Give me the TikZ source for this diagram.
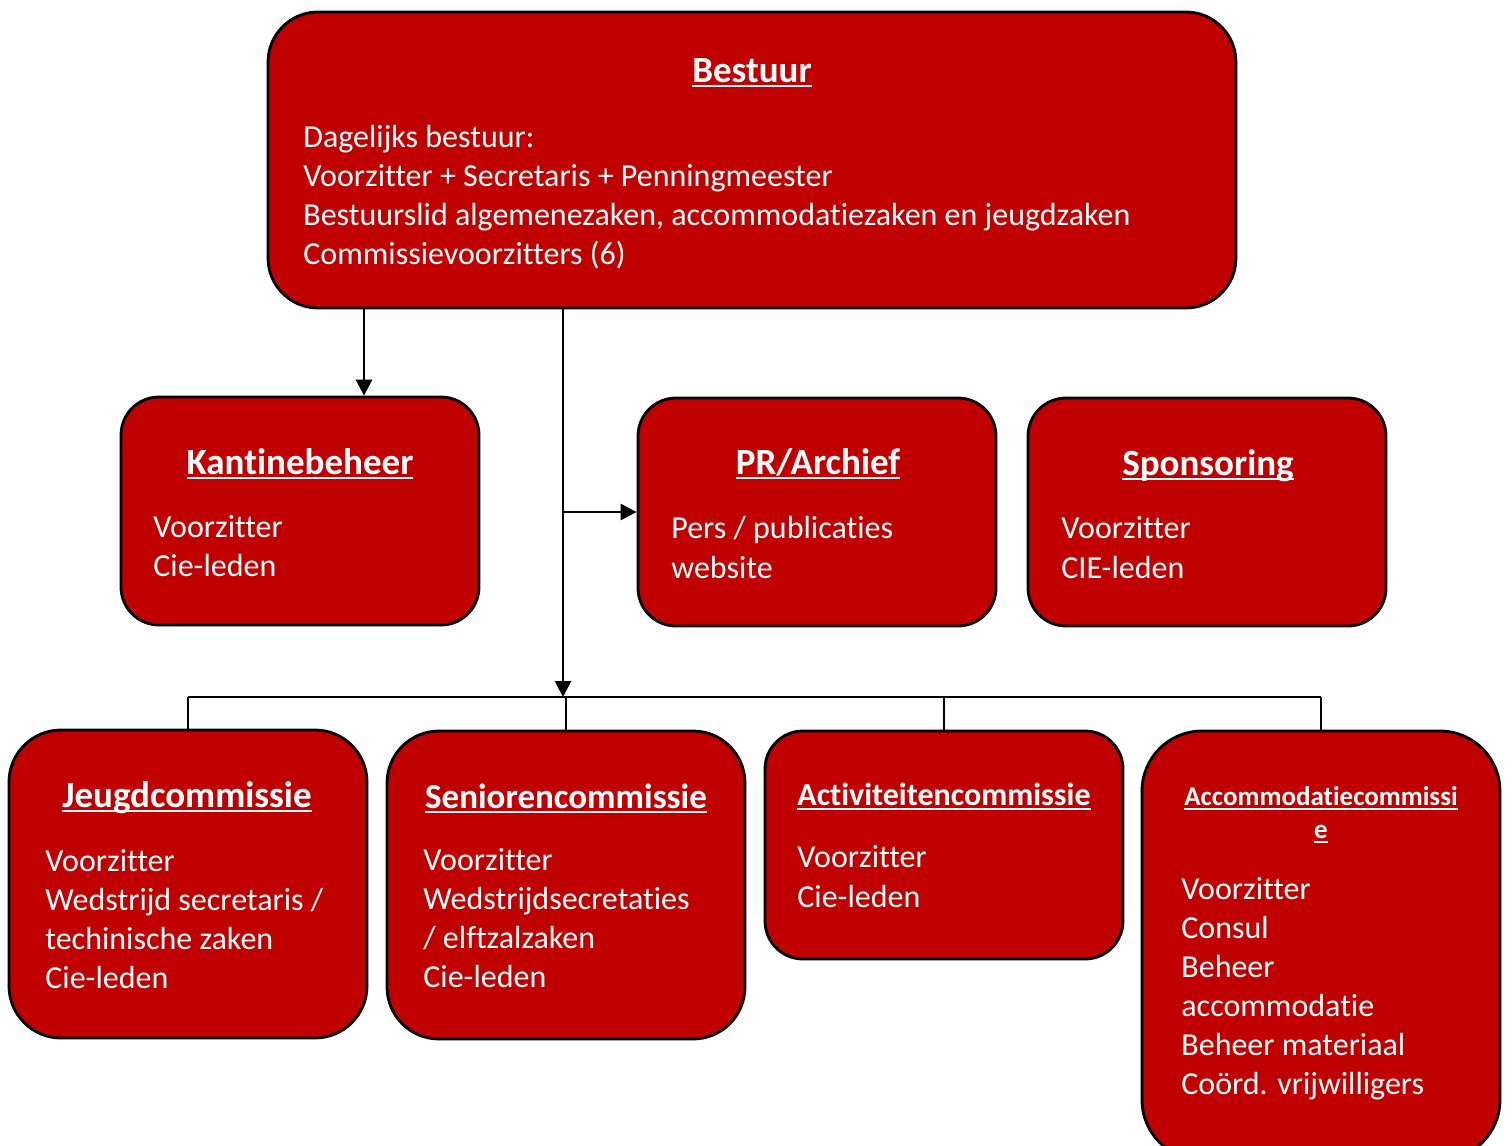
\documentclass[tikz,border=0pt]{standalone}
\usepackage{fontspec}
\setmainfont{Carlito}[Ligatures=NoCommon]
\usetikzlibrary{fit,arrows.meta}
\definecolor{boxred}{HTML}{C00000}
\newcommand\myul[1]{\setbox0\hbox{#1}\rlap{\vrule width \wd0 height -1.4pt depth 2.6pt}\box0}
\begin{document}
\begin{tikzpicture}[x=0.5pt,y=-0.5pt,
  box/.style={draw=black, line width=1.4pt, fill=boxred, inner sep=0pt},
  ttl/.style={text=white, font=\fontsize{18.5}{22}\selectfont\bfseries, anchor=base, inner sep=0pt},
  ttlmd/.style={ttl, font=\fontsize{17.5}{21}\selectfont\bfseries},
  ttlsm/.style={ttl, font=\fontsize{16}{20}\selectfont\bfseries},
  ttlxs/.style={ttl, font=\fontsize{13.5}{17}\selectfont\bfseries},
  body/.style={text=white, font=\fontsize{16}{19.5}\selectfont, anchor=base west, inner sep=0pt},
  conn/.style={line width=1.4pt},
  arr/.style={conn, -{Triangle[length=8pt,width=8pt]}}]
\useasboundingbox (0,0) rectangle (1512,1146);
% boxes
\node[box, rounded corners=25pt, fit={(268,12)(1236,308)}] (bestuur) {};
\node[box, rounded corners=19pt, fit={(121,397)(479,625)}] (kant) {};
\node[box, rounded corners=19pt, fit={(638,398)(996,626)}] (pr) {};
\node[box, rounded corners=19pt, fit={(1028,398)(1386,626)}] (spons) {};
\node[box, rounded corners=26pt, fit={(9,730)(367,1038)}] (jeugd) {};
\node[box, rounded corners=26pt, fit={(387,731)(745,1039)}] (senior) {};
\node[box, rounded corners=19pt, fit={(765,731)(1123,959)}] (activ) {};
\node[box, rounded corners=30pt, fit={(1142,731)(1500,1160)}] (acc) {};
% titles
\node[ttl] (tbestuur) at (752,82) {\myul{Bestuur}};
\node[ttl] (tkant) at (300,474) {\myul{Kantinebeheer}};
\node[ttl] (tpr) at (818,474) {\myul{PR/Archief}};
\node[ttl] (tspons) at (1208,475) {\myul{Sponsoring}};
\node[ttl] (tjeugd) at (187,807) {\myul{Jeugdcommissie}};
\node[ttlmd] (tsenior) at (566,808) {\myul{Seniorencommissie}};
\node[ttlsm] (tactiv) at (944,805) {\myul{Activiteitencommissie}};
\node[ttlxs] (tacc1) at (1321,805) {\myul{Accommodatiecommissi}};
\node[ttlxs] (tacc2) at (1321,838) {\myul{e}};
% body texts
\foreach \t [count=\i] in {Dagelijks bestuur:, Voorzitter + Secretaris + Penningmeester, {Bestuurslid algemenezaken, accommodatiezaken en jeugdzaken}, Commissievoorzitters (6)}
  \node[body, name=bb\i] at (303,{147+39*(\i-1)}) {\t};
\foreach \t [count=\i] in {Voorzitter, Cie-leden}
  \node[body, name=kb\i] at (153,{537+39*(\i-1)}) {\t};
\foreach \t [count=\i] in {Pers / publicaties, website}
  \node[body, name=pb\i] at (671,{538+40*(\i-1)}) {\t};
\foreach \t [count=\i] in {Voorzitter, CIE-leden}
  \node[body, name=sb\i] at (1061,{538+40*(\i-1)}) {\t};
\foreach \t [count=\i] in {Voorzitter, Wedstrijd secretaris /, techinische zaken, Cie-leden}
  \node[body, name=jb\i] at (45,{871+39*(\i-1)}) {\t};
\foreach \t [count=\i] in {Voorzitter, Wedstrijdsecretaties, / elftzalzaken, Cie-leden}
  \node[body, name=snb\i] at (423,{870+39*(\i-1)}) {\t};
\foreach \t [count=\i] in {Voorzitter, Cie-leden}
  \node[body, name=ab\i] at (797,{867+40*(\i-1)}) {\t};
\foreach \t [count=\i] in {Voorzitter, Consul, Beheer, accommodatie, Beheer materiaal, Coörd. vrijwilligers}
  \node[body, name=cb\i] at (1181,{899+39*(\i-1)}) {\t};
% connectors
\coordinate (kx) at (364,0);
\coordinate (mx) at (563,0);
\coordinate (br) at (563,512);
\coordinate (bus) at (563,697);
\coordinate (sx) at (566,0);
\draw[arr] (kx |- bestuur.south) -- (kx |- kant.north);
\draw[arr] (mx |- bestuur.south) -- (bus);
\draw[arr] (br) -- (br -| pr.west);
\draw[conn] (jeugd.north |- bus) -- (acc.north |- bus);
\draw[conn] (jeugd.north |- bus) -- (jeugd.north);
\draw[conn] (sx |- bus) -- (sx |- senior.north);
\draw[conn] (activ.north |- bus) -- (activ.north);
\draw[conn] (acc.north |- bus) -- (acc.north);
\end{tikzpicture}
\end{document}
